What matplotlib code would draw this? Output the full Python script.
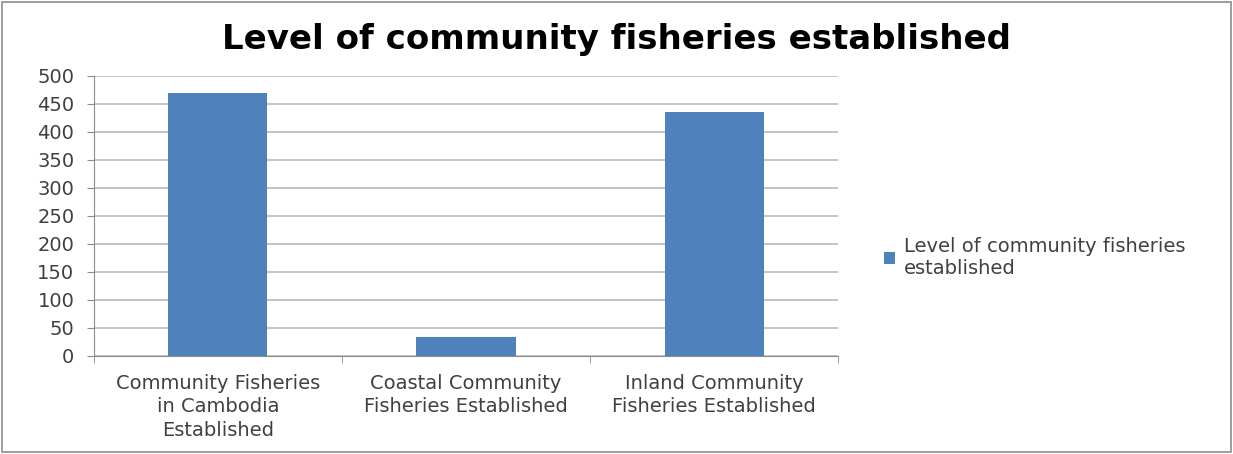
import matplotlib.pyplot as plt
from matplotlib.patches import Rectangle

categories = ["Community Fisheries\nin Cambodia\nEstablished",
              "Coastal Community\nFisheries Established",
              "Inland Community\nFisheries Established"]
values = [469, 34, 435]
series_name = "Level of community fisheries\nestablished"
title = "Level of community fisheries established"

plt.rcParams['font.family'] = ['DejaVu Sans']

fig = plt.figure(figsize=(12.33, 4.54), dpi=100)
ax = fig.add_axes([0.076, 0.216, 0.604, 0.617])

x = range(len(values))
bars = ax.bar(x, values, width=0.4, color="#4F81BD", label=series_name, zorder=3)

ax.set_xlim(-0.5, 2.5)
ax.set_ylim(0, 500)
ax.set_yticks(range(0, 501, 50))
ax.yaxis.grid(True, color="#BFBFBF", linewidth=1.3, zorder=0)
ax.set_xticks(list(x))
ax.set_xticklabels(categories, fontsize=14, color="#404040", linespacing=1.3)
ax.set_xticks([-0.5, 0.5, 1.5, 2.5], minor=True)
ax.tick_params(axis="x", which="major", length=0, pad=13)
ax.tick_params(axis="x", which="minor", length=5, color="#8C8C8C")
ax.tick_params(axis="y", length=5, color="#8C8C8C", labelsize=14, labelcolor="#404040", pad=9)
for s in ["top", "right"]:
    ax.spines[s].set_visible(False)
for s in ["left", "bottom"]:
    ax.spines[s].set_color("#8C8C8C")

fig.suptitle(title, x=0.5, y=0.95, fontsize=24.5, fontweight="bold", color="black")

fig.legend(handles=[bars], labels=[series_name], loc="center left",
           bbox_to_anchor=(0.711, 0.433), frameon=False, fontsize=14,
           handlelength=0.55, handleheight=0.55, handletextpad=0.45,
           labelcolor="#404040", borderaxespad=0, labelspacing=0.2)

fig.patches.append(Rectangle((0.002, 0.004), 0.996, 0.992, transform=fig.transFigure,
                             fill=False, edgecolor="#8C8C8C", linewidth=1.2))

fig.savefig("out.png", dpi=100)
